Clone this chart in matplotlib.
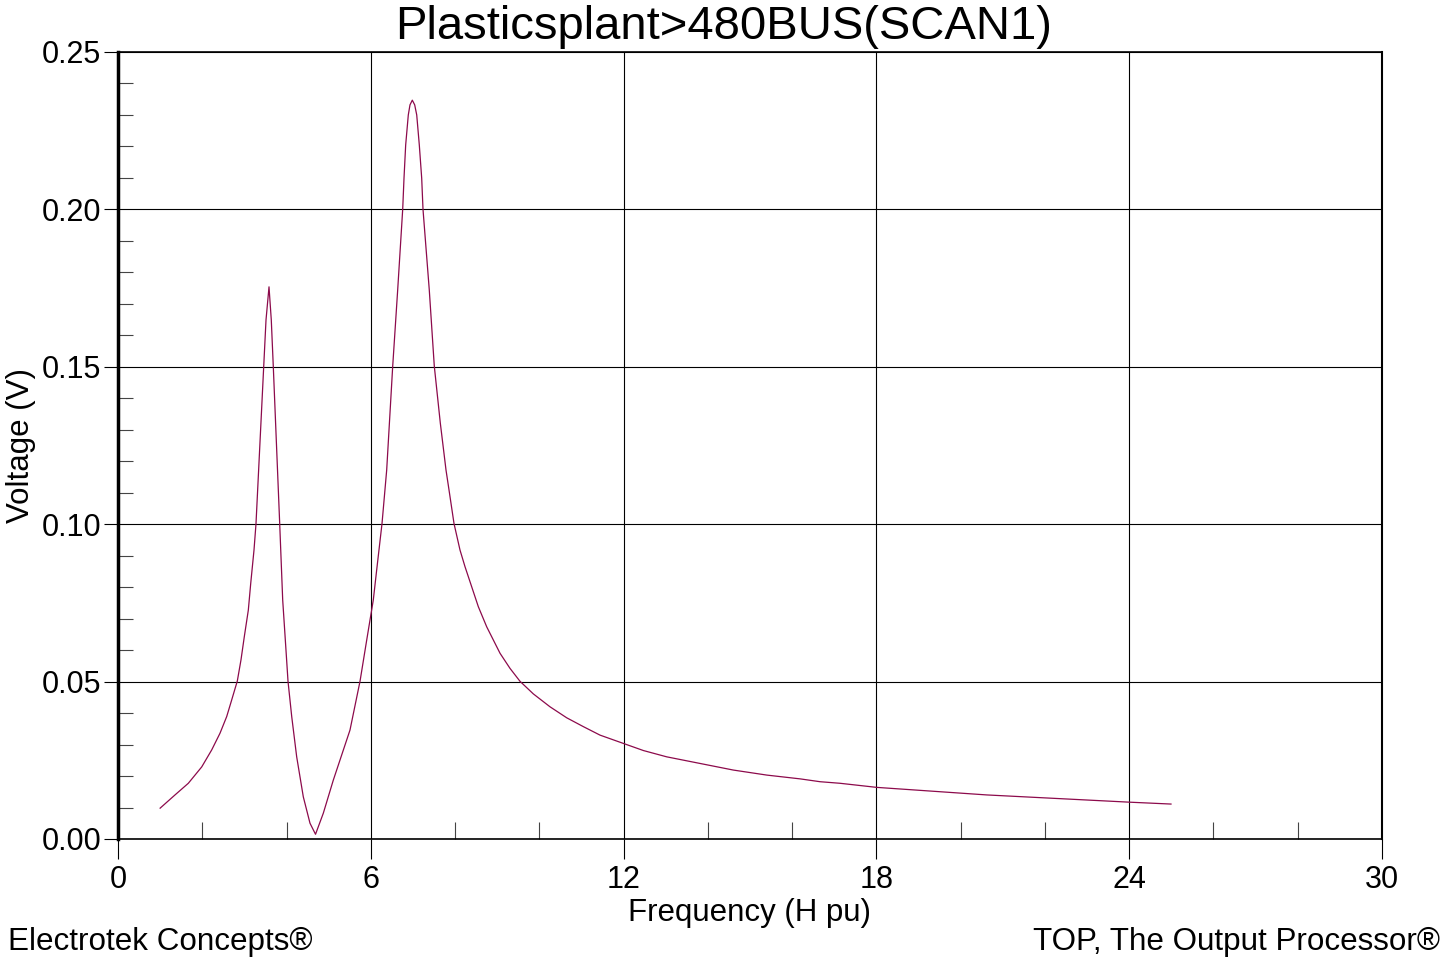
import matplotlib
matplotlib.use("Agg")
import matplotlib.pyplot as plt
from matplotlib.ticker import MultipleLocator, FormatStrFormatter

plt.rcParams['font.family'] = ['Liberation Sans', 'DejaVu Sans']

# frequency scan
freq = [1.0, 1.353, 1.669, 1.987, 2.224, 2.421, 2.580, 2.699, 2.832, 2.919,
        2.998, 3.093, 3.150, 3.228, 3.275, 3.458, 3.513, 3.584, 3.638, 3.686,
        3.838, 3.909, 3.987, 4.035, 4.123, 4.241, 4.398, 4.557, 4.688, 4.873,
        5.110, 5.506, 5.744, 5.903, 6.059, 6.140, 6.266, 6.377, 6.520, 6.638,
        6.757, 6.788, 6.828, 6.890, 6.930, 6.985, 7.042, 7.090, 7.151, 7.208,
        7.239, 7.388, 7.507, 7.650, 7.785, 7.856, 7.975, 8.117, 8.236, 8.552,
        8.751, 9.067, 9.304, 9.541, 9.857, 10.253, 10.65, 11.044, 11.440, 12.47,
        13.023, 14.604, 15.40, 16.19, 16.662, 17.136, 18.007, 20.618, 24.003, 24.992]
volt = [0.0098, 0.0140, 0.0177, 0.0229, 0.0283, 0.0336, 0.0389, 0.0442, 0.0502, 0.0569,
        0.0643, 0.0727, 0.0812, 0.0918, 0.1001, 0.1500, 0.1649, 0.1754, 0.1649, 0.1500,
        0.1001, 0.0759, 0.0600, 0.0501, 0.0389, 0.0261, 0.0134, 0.0050, 0.0015, 0.0082,
        0.0187, 0.0346, 0.0501, 0.0632, 0.0759, 0.0855, 0.1002, 0.1172, 0.1502, 0.1744,
        0.2000, 0.2099, 0.2205, 0.2300, 0.2332, 0.2347, 0.2332, 0.2300, 0.2205, 0.2099,
        0.2000, 0.1744, 0.1502, 0.1321, 0.1172, 0.1109, 0.1002, 0.0918, 0.0865, 0.0738,
        0.0674, 0.0590, 0.0542, 0.0501, 0.0461, 0.0420, 0.0385, 0.0357, 0.0330, 0.0281,
        0.0261, 0.0219, 0.0203, 0.0191, 0.0182, 0.0177, 0.0164, 0.0140, 0.0117, 0.0111]

fig = plt.figure(figsize=(14.45, 9.6), dpi=100)
ax = fig.add_axes([118/1445, 121/960, 1264/1445, 787/960])

ax.plot(freq, volt, color="#8c0a4b", linewidth=0.9)

ax.set_xlim(0, 30)
ax.set_ylim(0, 0.25)
ax.xaxis.set_major_locator(MultipleLocator(6))
ax.xaxis.set_minor_locator(MultipleLocator(2))
ax.yaxis.set_major_locator(MultipleLocator(0.05))
ax.yaxis.set_minor_locator(MultipleLocator(0.01))
ax.yaxis.set_major_formatter(FormatStrFormatter('%.2f'))

ax.grid(True, which='major', color='black', linewidth=0.8)
ax.tick_params(axis='x', which='major', direction='out', length=14.4, width=0.8,
               labelsize=22, pad=4)
ax.tick_params(axis='x', which='minor', direction='in', length=12, width=0.8,
               color='#444444')
ax.tick_params(axis='y', which='major', direction='out', length=10, width=0.8,
               labelsize=22, pad=2)
ax.tick_params(axis='y', which='minor', direction='in', length=10.5, width=0.8,
               color='#444444')

ax.spines['left'].set_linewidth(2.5)
ax.spines['right'].set_linewidth(1.5)
ax.spines['top'].set_linewidth(1.2)
ax.spines['bottom'].set_linewidth(1.2)

ax.set_xlabel("Frequency (H pu)", fontsize=22.5)
ax.xaxis.set_label_coords(0.5, -0.075)
ax.set_ylabel("Voltage (V)", fontsize=22.5)
ax.yaxis.set_label_coords(-0.0645, 0.5)

fig.text(0.501, 1 - 39/960, "Plasticsplant>480BUS(SCAN1)", fontsize=34,
         ha='center', va='baseline')
fig.text(8/1445, 1 - 950/960, "Electrotek Concepts®", fontsize=22.6,
         ha='left', va='baseline')
fig.text(1440/1445, 1 - 950/960, "TOP, The Output Processor®", fontsize=22.6,
         ha='right', va='baseline')

fig.savefig("out.png", dpi=100)
